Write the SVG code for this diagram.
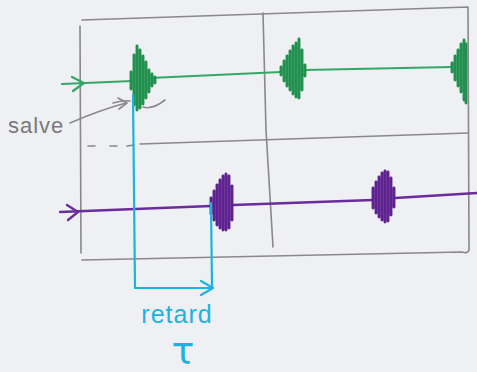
<svg xmlns="http://www.w3.org/2000/svg" width="477" height="372" viewBox="0 0 477 372">
<defs>
<style>
.grid{fill:none;stroke:#8a8888;stroke-width:1.6;stroke-linecap:round;stroke-linejoin:round}
.g{fill:none;stroke:#35a866;stroke-width:2.2;stroke-linecap:round;stroke-linejoin:round}
.gb{fill:none;stroke:#22914f;stroke-width:2.9;stroke-linecap:round}
.p{fill:none;stroke:#6b2c9c;stroke-width:2.4;stroke-linecap:round;stroke-linejoin:round}
.pb{fill:none;stroke:#5e2390;stroke-width:2.9;stroke-linecap:round}
.c{fill:none;stroke:#1db3e0;stroke-width:2.2;stroke-linecap:round;stroke-linejoin:round}
.lbl{font-family:"Liberation Sans",Arial,sans-serif}
</style>
</defs>
<rect width="477" height="372" fill="#eef0f3"/>
<g id="grid">
<path class="grid" d="M82,20 L468,7 L469,250 Q468,254 462,252 L82,260"/>
<path class="grid" d="M80,26 L81,253"/>
<path class="grid" d="M263,13 L266,130 L273,247"/>
<path class="grid" d="M140,144 L468,133"/>
<path class="grid" d="M88,146 L95,146 M110,146 L117,146 M127,146 L134,145" stroke-width="1.2" stroke="#a09c9c"/>
</g>
<g id="green-signal">
<path class="g" d="M62,84 L132,81 M150,78 L281,72 M305,70 L452,67"/>
<path class="g" d="M72,77 L84,83 L73,91"/>
<path class="gb" d="M131,72 V89 M134,55 V105 M137,46 V110 M140,50 V108 M143,56 V104 M146,62 V98 M149,70 V92 M152,74 V86 M155,77 V83"/>
<path class="gb" d="M281,67 V75 M284,61 V81 M287,56 V86 M290,51 V90 M293,46 V94 M296,43 V97 M299,39 V98 M302,50 V90 M305,65 V76"/>
<path class="gb" d="M452,63 V72 M455,56 V80 M458,50 V86 M461,44 V92 M464,40 V100 M466,44 V103"/>
</g>
<g id="purple-signal">
<path class="p" d="M60,212 L211,206 M233,205 L373,200 M395,198 L477,193"/>
<path class="p" d="M67,205 L78,212 L68,220"/>
<path class="pb" d="M211,198 V214 M214,191 V220 M217,185 V225 M220,180 V228 M223,176 V230 M226,174 V230 M229,176 V228 M232,186 V220"/>
<path class="pb" d="M373,188 V208 M376,182 V213 M379,177 V217 M382,173 V220 M385,171 V222 M388,172 V221 M391,178 V215 M394,188 V207"/>
</g>
<g id="connectors">
<path class="c" d="M133,95 L135,288 L211,288"/>
<path class="c" d="M211,203 L212,287"/>
<path class="c" d="M201,281 L213,288 L201,295"/>
<path class="grid" d="M70,123 Q100,110 126,103"/>
<path class="grid" d="M118,98 L127,103 L119,109"/>
<path class="grid" d="M113,103 Q125,100 130,101 M143,107 Q152,110 165,100"/>
</g>
<g id="salve">
<text class="lbl" x="8" y="133" font-size="22" fill="#7a7878" letter-spacing="1">salve</text>
</g>
<g id="retard">
<text class="lbl" x="177" y="323" font-size="25" fill="#1db3e0" text-anchor="middle" letter-spacing="1">retard</text>
<text x="183" y="364" font-size="38" fill="#1db3e0" text-anchor="middle" font-family="DejaVu Sans, sans-serif">τ</text>
</g>
</svg>
